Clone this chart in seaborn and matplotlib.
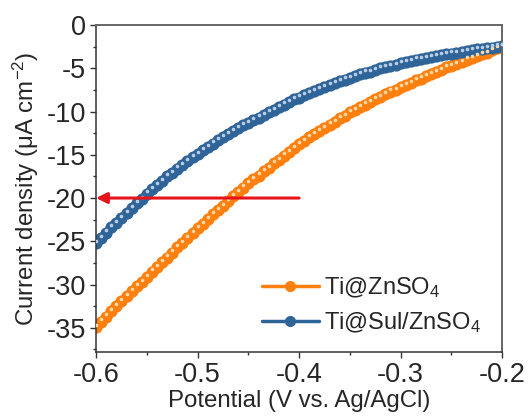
import matplotlib
matplotlib.use("Agg")
import matplotlib.pyplot as plt
import matplotlib.transforms as mtransforms
from matplotlib.lines import Line2D
import seaborn as sns
import pandas as pd

potential = [-0.600, -0.595, -0.590, -0.585, -0.580, -0.575, -0.570, -0.565, -0.560, -0.555,
             -0.550, -0.545, -0.540, -0.535, -0.530, -0.525, -0.520, -0.515, -0.510, -0.505,
             -0.500, -0.495, -0.490, -0.485, -0.480, -0.475, -0.470, -0.465, -0.460, -0.455,
             -0.450, -0.445, -0.440, -0.435, -0.430, -0.425, -0.420, -0.415, -0.410, -0.405,
             -0.400, -0.395, -0.390, -0.385, -0.380, -0.375, -0.370, -0.365, -0.360, -0.355,
             -0.350, -0.345, -0.340, -0.335, -0.330, -0.325, -0.320, -0.315, -0.310, -0.305,
             -0.300, -0.295, -0.290, -0.285, -0.280, -0.275, -0.270, -0.265, -0.260, -0.255,
             -0.250, -0.245, -0.240, -0.235, -0.230, -0.225, -0.220, -0.215, -0.210, -0.205,
             -0.200]

ti_znso4 = [-34.9, -34.3, -33.7, -33.1, -32.5, -31.9, -31.3, -30.8, -30.2, -29.7,
            -29.1, -28.5, -28.0, -27.4, -26.9, -26.3, -25.7, -25.2, -24.6, -24.1,
            -23.5, -23.0, -22.4, -21.9, -21.4, -20.9, -20.4, -19.8, -19.3, -18.8,
            -18.3, -17.8, -17.4, -16.9, -16.5, -16.0, -15.6, -15.1, -14.7, -14.2,
            -13.8, -13.4, -13.0, -12.6, -12.3, -11.9, -11.5, -11.2, -10.8, -10.5,
            -10.1, -9.8, -9.5, -9.2, -8.9, -8.6, -8.3, -8.0, -7.7, -7.5,
            -7.2, -6.9, -6.7, -6.4, -6.2, -5.9, -5.7, -5.4, -5.2, -4.9,
            -4.7, -4.5, -4.3, -4.0, -3.8, -3.6, -3.4, -3.2, -2.9, -2.7,
            -2.5]

ti_sul_znso4 = [-25.2, -24.6, -24.0, -23.4, -22.9, -22.3, -21.7, -21.2, -20.6, -20.1,
                -19.5, -19.0, -18.5, -18.0, -17.5, -17.1, -16.6, -16.2, -15.7, -15.3,
                -14.9, -14.5, -14.1, -13.7, -13.3, -13.0, -12.6, -12.3, -11.9, -11.6,
                -11.3, -11.0, -10.7, -10.4, -10.1, -9.8, -9.5, -9.2, -8.9, -8.6,
                -8.4, -8.1, -7.9, -7.6, -7.4, -7.2, -6.9, -6.7, -6.5, -6.3,
                -6.1, -5.9, -5.7, -5.5, -5.4, -5.2, -5.0, -4.9, -4.7, -4.6,
                -4.4, -4.3, -4.2, -4.0, -3.9, -3.8, -3.7, -3.6, -3.5, -3.4,
                -3.3, -3.2, -3.1, -3.0, -2.9, -2.8, -2.8, -2.7, -2.6, -2.5,
                -2.4]

labels = ["Ti@ZnSO$_4$", "Ti@Sul/ZnSO$_4$"]
colors = ["#FF800E", "#2F6498"]
highlights = ["#FFD9A8", "#B9CDE6"]
x_ticks = [-0.6, -0.5, -0.4, -0.3, -0.2]
y_ticks = [0, -5, -10, -15, -20, -25, -30, -35]

sns.set_style("ticks")
plt.rcParams["font.family"] = ["Liberation Sans", "DejaVu Sans"]
plt.rcParams["mathtext.fontset"] = "custom"
plt.rcParams["mathtext.rm"] = "Liberation Sans"
plt.rcParams["mathtext.it"] = "Liberation Sans:italic"
plt.rcParams["mathtext.bf"] = "Liberation Sans:bold"
plt.rcParams["axes.unicode_minus"] = False

fig = plt.figure(figsize=(5.28, 4.18), dpi=100)
ax = fig.add_axes([0.182, 0.158, 0.769, 0.782])

df = pd.DataFrame({
    "Potential": potential * 2,
    "Current": ti_znso4 + ti_sul_znso4,
    "Sample": [labels[0]] * len(potential) + [labels[1]] * len(potential),
})

sns.lineplot(data=df, x="Potential", y="Current", hue="Sample", hue_order=labels,
             palette=colors, marker="o", markersize=8.8, markeredgewidth=0,
             linestyle="", legend=False, ax=ax, sort=False, estimator=None)

off = mtransforms.offset_copy(ax.transData, fig=fig, x=0, y=1.6, units="points")
for lab, hc in zip(labels, highlights):
    sub = df[df["Sample"] == lab]
    ax.plot(sub["Potential"], sub["Current"], linestyle="", marker="o",
            markersize=2.6, markeredgewidth=0, color=hc, transform=off, zorder=3)

ax.annotate("", xy=(-0.6, -20), xytext=(-0.4, -20),
            arrowprops=dict(arrowstyle="-|>", color="#E8141B", lw=2.2,
                            mutation_scale=16, shrinkA=0, shrinkB=0),
            zorder=5)

ax.set_xlim(-0.6, -0.2)
ax.set_ylim(-37.8, 0)
ax.set_xticks(x_ticks)
ax.set_yticks(y_ticks)
ax.set_xticks([-0.55, -0.45, -0.35, -0.25], minor=True)
ax.set_yticks([-2.5, -7.5, -12.5, -17.5, -22.5, -27.5, -32.5, -37.5], minor=True)
ax.set_xticklabels(["-0.6", "-0.5", "-0.4", "-0.3", "-0.2"])
ax.set_yticklabels(["0", "-5", "-10", "-15", "-20", "-25", "-30", "-35"])
ax.tick_params(axis="both", which="major", direction="out", length=4.5, width=1,
               labelsize=19.5, color="#333333", top=False, right=False, pad=3)
ax.tick_params(axis="both", which="minor", direction="out", length=2.5, width=1,
               color="#333333", top=False, right=False)

for side in ["left", "bottom"]:
    ax.spines[side].set_color("#333333")
    ax.spines[side].set_linewidth(1.1)
for side in ["top", "right"]:
    ax.spines[side].set_color("#666666")
    ax.spines[side].set_linewidth(1.4)

ax.set_xlabel("Potential (V vs. Ag/AgCl)", fontsize=17.3, labelpad=1)
ax.set_ylabel("Current density (μA cm$^{-2}$)", fontsize=17.3, labelpad=4)

handles = [Line2D([0], [0], color=c, lw=2.5, marker="o", markersize=8,
                  markeredgewidth=0) for c in colors]
ax.legend(handles, labels, loc="lower right", bbox_to_anchor=(0.99, 0.0),
          frameon=False, fontsize=17, handlelength=2.4, handletextpad=0.25,
          labelspacing=0.45, borderaxespad=0.3)

fig.savefig("out.png", dpi=100)
